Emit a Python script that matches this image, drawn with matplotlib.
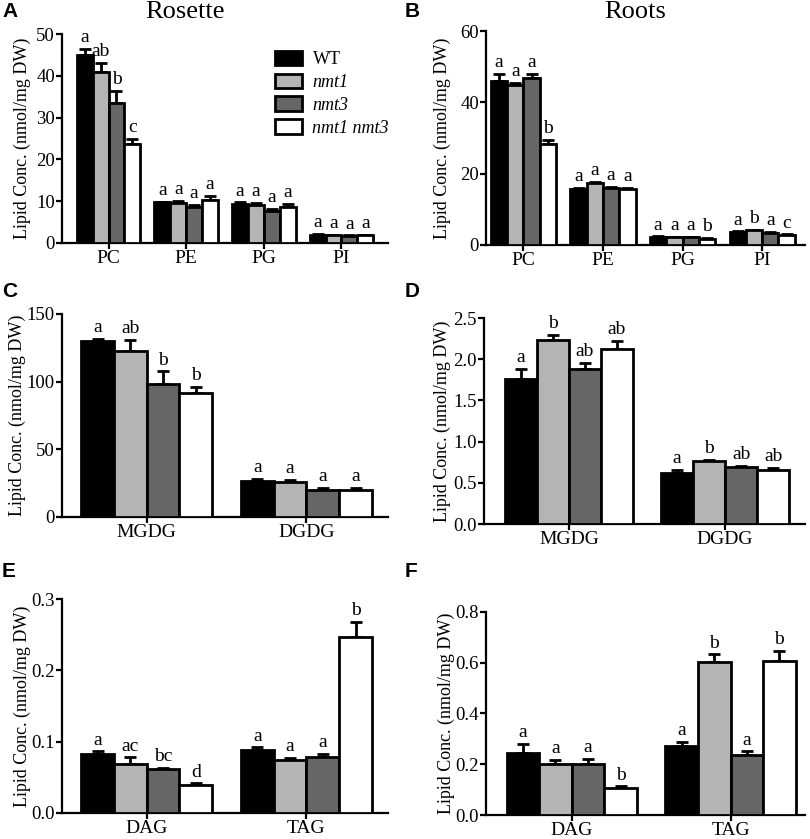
import matplotlib
matplotlib.use("Agg")
import matplotlib.pyplot as plt
from matplotlib.patches import Patch
import numpy as np

plt.rcParams['font.family'] = ['Liberation Serif', 'DejaVu Serif']

genotypes = ['WT', 'nmt1', 'nmt3', 'nmt1 nmt3']
colors = ['#000000', '#b4b4b4', '#666666', '#ffffff']

# panel A - rosette phospholipids
a_cats = ['PC', 'PE', 'PG', 'PI']
a_vals = [[45.0, 9.7, 9.3, 2.0],
          [41.0, 9.5, 9.1, 1.8],
          [33.5, 8.5, 7.6, 1.6],
          [23.8, 10.4, 8.6, 1.8]]
a_err = [[1.5, 0.2, 0.4, 0.2],
         [2.1, 0.5, 0.5, 0.2],
         [2.9, 0.7, 0.5, 0.2],
         [1.1, 0.8, 0.7, 0.2]]
a_let = [['a', 'a', 'a', 'a'], ['ab', 'a', 'a', 'a'], ['b', 'a', 'a', 'a'], ['c', 'a', 'a', 'a']]

# panel B - root phospholipids
b_cats = ['PC', 'PE', 'PG', 'PI']
b_vals = [[46.0, 15.6, 2.2, 3.6],
          [44.8, 17.3, 2.1, 4.1],
          [46.7, 15.9, 2.1, 3.4],
          [28.2, 15.6, 1.8, 2.8]]
b_err = [[1.9, 0.5, 0.2, 0.2],
         [0.6, 0.3, 0.1, 0.2],
         [1.2, 0.3, 0.1, 0.2],
         [1.2, 0.4, 0.1, 0.2]]
b_let = [['a', 'a', 'a', 'a'], ['a', 'a', 'a', 'b'], ['a', 'a', 'a', 'a'], ['b', 'a', 'b', 'c']]

# panel C - rosette galactolipids
c_cats = ['MGDG', 'DGDG']
c_vals = [[130.2, 26.8], [122.8, 25.9], [98.5, 19.7], [91.6, 19.9]]
c_err = [[1.5, 1.5], [8.2, 1.4], [9.0, 2.0], [4.4, 1.5]]
c_let = [['a', 'a'], ['ab', 'a'], ['b', 'a'], ['b', 'a']]

# panel D - root galactolipids
d_cats = ['MGDG', 'DGDG']
d_vals = [[1.76, 0.62], [2.23, 0.76], [1.88, 0.69], [2.12, 0.66]]
d_err = [[0.12, 0.04], [0.07, 0.02], [0.08, 0.02], [0.10, 0.025]]
d_let = [['a', 'a'], ['b', 'b'], ['ab', 'ab'], ['ab', 'ab']]

# panel E - rosette neutral lipids
e_cats = ['DAG', 'TAG']
e_vals = [[0.0825, 0.088], [0.0690, 0.0742], [0.0617, 0.0790], [0.0394, 0.247]]
e_err = [[0.004, 0.004], [0.009, 0.003], [0.002, 0.004], [0.002, 0.0205]]
e_let = [['a', 'a'], ['ac', 'a'], ['bc', 'a'], ['d', 'b']]

# panel F - root neutral lipids
f_cats = ['DAG', 'TAG']
f_vals = [[0.245, 0.270], [0.199, 0.601], [0.200, 0.238], [0.107, 0.605]]
f_err = [[0.035, 0.019], [0.019, 0.032], [0.021, 0.013], [0.006, 0.043]]
f_let = [['a', 'a'], ['a', 'b'], ['a', 'a'], ['b', 'b']]

fig = plt.figure(figsize=(8.1, 8.39), dpi=100)


def panel(rect, cats, vals, errs, lets, ylim, yticks, xlim, fmt, ylab_x):
    ax = fig.add_axes(rect)
    x = np.arange(len(cats))
    w = 0.205
    for i in range(4):
        xs = x + (i - 1.5) * w
        ax.bar(xs, vals[i], w, color=colors[i], edgecolor='black', linewidth=2, zorder=3)
        ax.errorbar(xs, vals[i], yerr=[np.zeros(len(cats)), errs[i]], fmt='none',
                    ecolor='black', elinewidth=2, capsize=4, capthick=2, zorder=2)
        for xx, v, e, l in zip(xs, vals[i], errs[i], lets[i]):
            ax.annotate(l, (xx, v + e), xytext=(0, 2), textcoords='offset points',
                        ha='center', va='bottom', fontsize=14)
    ax.set_xlim(*xlim)
    ax.set_ylim(*ylim)
    ax.set_yticks(yticks)
    ax.set_yticklabels([fmt.format(t) for t in yticks])
    ax.set_xticks(x)
    ax.set_xticklabels(cats)
    for s in ['top', 'right']:
        ax.spines[s].set_visible(False)
    for s in ['left', 'bottom']:
        ax.spines[s].set_linewidth(1.6)
    ax.tick_params(axis='y', labelsize=13.5, width=1.6, length=4, pad=1)
    ax.tick_params(axis='x', labelsize=14, width=1.6, length=4, pad=1)
    ax.set_ylabel('Lipid Conc. (nmol/mg DW)', fontsize=13)
    ax.yaxis.set_label_coords(ylab_x, 0.5)
    return ax


axA = panel([0.0765, 0.7104, 0.4025, 0.249], a_cats, a_vals, a_err, a_let,
            (0, 50), [0, 10, 20, 30, 40, 50], (-0.6, 3.6), '{:.0f}', -0.095)
axB = panel([0.600, 0.708, 0.394, 0.255], b_cats, b_vals, b_err, b_let,
            (0, 60), [0, 20, 40, 60], (-0.47, 3.54), '{:.0f}', -0.11)
axC = panel([0.0765, 0.3838, 0.4025, 0.242], c_cats, c_vals, c_err, c_let,
            (0, 150), [0, 50, 100, 150], (-0.53, 1.51), '{:.0f}', -0.11)
axD = panel([0.5975, 0.3754, 0.396, 0.2455], d_cats, d_vals, d_err, d_let,
            (0, 2.5), [0, 0.5, 1.0, 1.5, 2.0, 2.5], (-0.545, 1.51), '{:.1f}', -0.103)
axE = panel([0.0765, 0.031, 0.4025, 0.255], e_cats, e_vals, e_err, e_let,
            (0, 0.3), [0, 0.1, 0.2, 0.3], (-0.53, 1.51), '{:.1f}', -0.095)
axF = panel([0.600, 0.0286, 0.394, 0.242], f_cats, f_vals, f_err, f_let,
            (0, 0.8), [0, 0.2, 0.4, 0.6, 0.8], (-0.54, 1.47), '{:.1f}', -0.097)

fig.text(185 / 810, 1 - 1 / 839, 'Rosette', fontsize=19, ha='center', va='top')
fig.text(635 / 810, 1 - 1 / 839, 'Roots', fontsize=19, ha='center', va='top')

handles = [Patch(facecolor=c, edgecolor='black', linewidth=2) for c in colors]
leg = axA.legend(handles, genotypes, loc='upper left', bbox_to_anchor=(0.63, 0.955),
                 frameon=False, fontsize=13, handlelength=1.5, handleheight=0.85,
                 labelspacing=0.3, handletextpad=0.6, borderaxespad=0)
for t in leg.get_texts()[1:]:
    t.set_style('italic')

for lab, (px, py) in zip('ABCDEF', [(2, 2), (405, 2), (2, 282), (405, 282), (2, 562), (405, 562)]):
    fig.text(px / 810, 1 - py / 839, lab, fontsize=15, fontweight='bold',
             family='Liberation Sans', ha='left', va='top')

fig.savefig('out.png', dpi=100)
